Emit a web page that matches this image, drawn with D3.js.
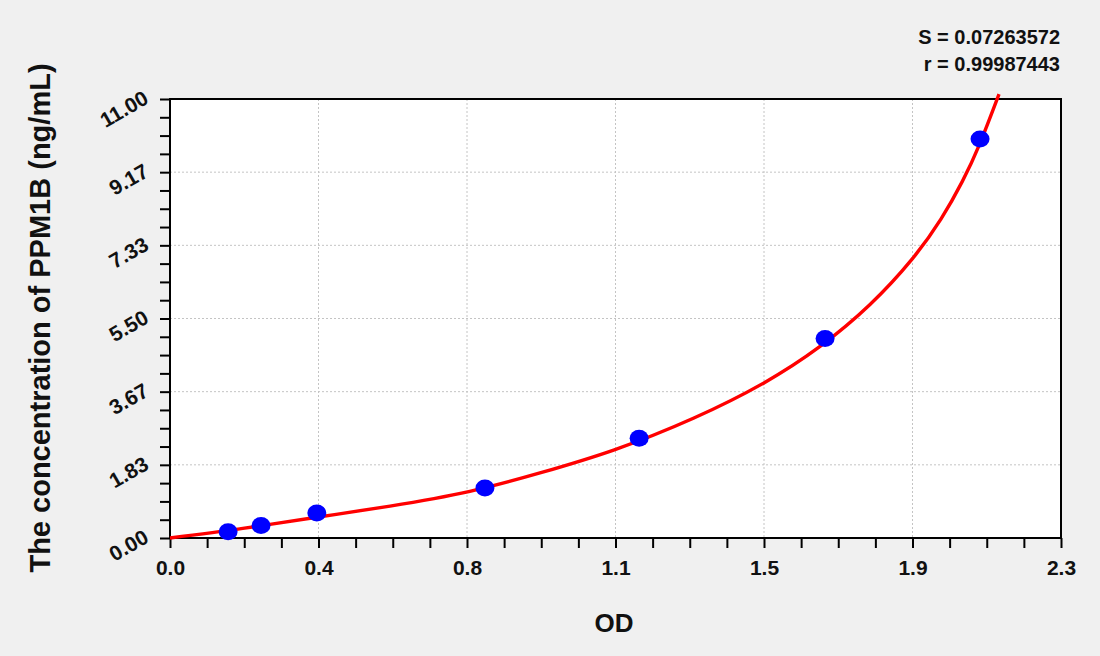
<!DOCTYPE html>
<html><head><meta charset="utf-8">
<script src="https://cdn.jsdelivr.net/npm/d3@7"></script>
<style>
html,body{margin:0;padding:0;background:#f0f0f0;}
svg{display:block;font-family:"Liberation Sans",Arial,sans-serif;}
</style></head>
<body>
<svg id="chart" width="1100" height="656"></svg>
<script>
// Standard points (OD, concentration ng/mL)
const pointOD   = [0.150, 0.235, 0.379, 0.813, 1.211, 1.691, 2.091];
const pointConc = [0.156, 0.313, 0.625, 1.25, 2.5, 5.0, 10.0];
// Fitted curve
const curveOD   = [0, 0.188, 0.379, 0.568, 0.774, 0.955, 1.147, 1.351, 1.532, 1.678, 1.807, 1.915, 1.990, 2.045, 2.090, 2.140];
const curveConc = [0, 0.24, 0.52, 0.80, 1.17, 1.63, 2.21, 3.00, 3.88, 4.80, 5.85, 6.98, 7.99, 8.93, 9.87, 11.12];
// Axis ticks
const xTicks = [0, 2.3/6, 2*2.3/6, 3*2.3/6, 4*2.3/6, 5*2.3/6, 2.3];
const xTickLabels = ["0.0", "0.4", "0.8", "1.1", "1.5", "1.9", "2.3"];
const yTicks = [0, 11/6, 2*11/6, 3*11/6, 4*11/6, 5*11/6, 11];
const yTickLabels = ["0.00", "1.83", "3.67", "5.50", "7.33", "9.17", "11.00"];
const statLines = ["S = 0.07263572", "r = 0.99987443"];
const xTitle = "OD";
const yTitle = "The concentration of PPM1B  (ng/mL)";

const L = 170, R = 1061, T = 99, B = 538;
const FONT = "'Liberation Sans',Arial,sans-serif";
const svg = d3.select("#chart");
const x = d3.scaleLinear().domain([0, 2.3]).range([L, R]);
const y = d3.scaleLinear().domain([0, 11]).range([B, T]);

// plot background
svg.append("rect").attr("x", L).attr("y", T).attr("width", R - L).attr("height", B - T).attr("fill", "#fff");

// grid
const g = svg.append("g");
g.selectAll(".gx").data(xTicks.slice(1, -1)).enter().append("line")
  .attr("x1", d => x(d)).attr("x2", d => x(d)).attr("y1", T).attr("y2", B)
  .attr("stroke", "#c4c4c4").attr("stroke-width", 1).attr("stroke-dasharray", "2,2");
g.selectAll(".gy").data(yTicks.slice(1, -1)).enter().append("line")
  .attr("y1", d => y(d)).attr("y2", d => y(d)).attr("x1", L).attr("x2", R)
  .attr("stroke", "#c4c4c4").attr("stroke-width", 1).attr("stroke-dasharray", "2,2");

// minor + major ticks
const xMinor = d3.range(0, 25).map(i => i * 2.3 / 24);
const yMinor = d3.range(0, 25).map(i => i * 11 / 24);

const xAxis = d3.axisBottom(x).tickValues(xMinor).tickSize(10).tickFormat("");
const gxA = svg.append("g").attr("transform", `translate(0,${B})`).call(xAxis);
gxA.select(".domain").remove();
gxA.selectAll("line").attr("stroke", "#000").attr("stroke-width", 2);
const xLab = d3.axisBottom(x).tickValues(xTicks).tickSize(0).tickPadding(22)
  .tickFormat((d, i) => xTickLabels[i]);
const gxL = svg.append("g").attr("transform", `translate(0,${B})`).call(xLab);
gxL.select(".domain").remove();
gxL.selectAll("text").attr("font-size", 21).attr("font-weight", "bold").attr("fill", "#111")
  .attr("font-family", FONT);

const yAxis = d3.axisLeft(y).tickValues(yMinor).tickSize(10).tickFormat("");
const gyA = svg.append("g").attr("transform", `translate(${L},0)`).call(yAxis);
gyA.select(".domain").remove();
gyA.selectAll("line").attr("stroke", "#000").attr("stroke-width", 2);
const yLab = d3.axisLeft(y).tickValues(yTicks).tickSize(0).tickFormat((d, i) => yTickLabels[i]);
const gyL = svg.append("g").attr("transform", `translate(${L},0)`).call(yLab);
gyL.select(".domain").remove();
gyL.selectAll("text")
  .attr("x", 0).attr("dy", 0)
  .attr("transform", "translate(-20,3) rotate(-30)")
  .attr("text-anchor", "end")
  .attr("font-size", 21).attr("font-weight", "bold").attr("fill", "#111")
  .attr("font-family", FONT);

// frame
svg.append("rect").attr("x", L).attr("y", T).attr("width", R - L).attr("height", B - T)
  .attr("fill", "none").attr("stroke", "#000").attr("stroke-width", 2);

// curve
const curveData = curveOD.map((d, i) => [d, curveConc[i]]);
const line = d3.line().x(d => x(d[0])).y(d => y(d[1])).curve(d3.curveNatural);
svg.append("path").datum(curveData).attr("d", line)
  .attr("fill", "none").attr("stroke", "#ff0000").attr("stroke-width", 3.4);

// points
svg.selectAll(".pt").data(pointOD.map((d, i) => [d, pointConc[i]])).enter().append("ellipse")
  .attr("cx", d => x(d[0])).attr("cy", d => y(d[1])).attr("rx", 9.5).attr("ry", 8.5)
  .attr("fill", "#0000ff");

// titles
svg.append("text").attr("x", 614).attr("y", 632).attr("text-anchor", "middle")
  .attr("font-size", 26).attr("font-weight", "bold").attr("fill", "#111").text(xTitle);
svg.append("text").attr("transform", "translate(50,318) rotate(-90)").attr("text-anchor", "middle")
  .attr("font-size", 29).attr("font-weight", "bold").attr("fill", "#111").text(yTitle);

svg.selectAll(".stat").data(statLines).enter().append("text")
  .attr("x", 1060).attr("y", (d, i) => 44 + i * 27).attr("text-anchor", "end")
  .attr("font-size", 20).attr("font-weight", "bold").attr("fill", "#111").text(d => d);
</script>
</body></html>
